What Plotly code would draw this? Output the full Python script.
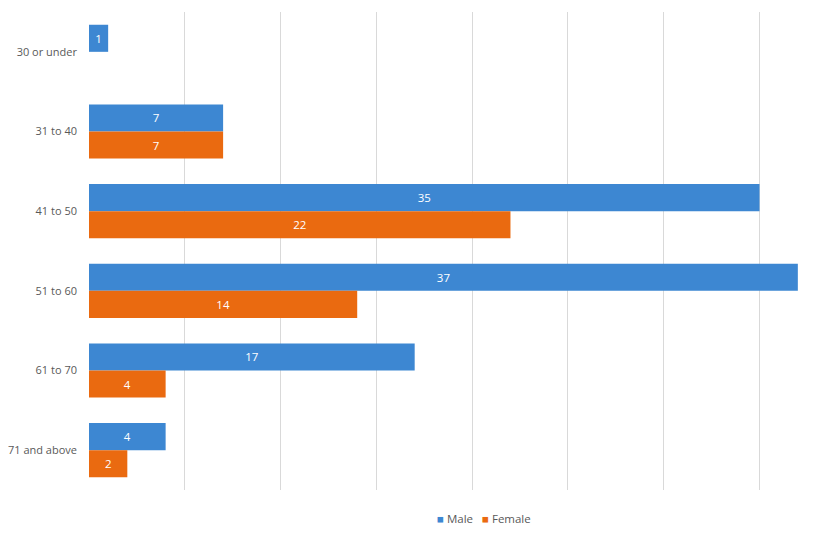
import plotly.graph_objects as go

# age bands, top to bottom
age_groups = ["30 or under", "31 to 40", "41 to 50", "51 to 60", "61 to 70", "71 and above"]
male = [1, 7, 35, 37, 17, 4]
female = [0, 7, 22, 14, 4, 2]

BLUE = "#3d87d2"
ORANGE = "#ea6a10"


def labels(vals):
    return [str(v) if v else "" for v in vals]


fig = go.Figure()
fig.add_trace(go.Bar(y=age_groups, x=male, name="Male", orientation="h",
                     marker=dict(color=BLUE, line=dict(width=0)),
                     text=labels(male), textposition="inside",
                     insidetextanchor="middle", constraintext="none",
                     textfont=dict(color="white", size=11.5)))
fig.add_trace(go.Bar(y=age_groups, x=female, name="Female", orientation="h",
                     marker=dict(color=ORANGE, line=dict(width=0)),
                     text=labels(female), textposition="inside",
                     insidetextanchor="middle", constraintext="none",
                     textfont=dict(color="white", size=11.5)))

# page body has an 8px margin, so the figure is a bit smaller than the window
fig.update_layout(
    width=811, height=530,
    margin=dict(l=81, r=2, t=4, b=48),
    barmode="group", bargap=0.32, bargroupgap=0,
    plot_bgcolor="white", paper_bgcolor="white",
    font=dict(family="Open Sans, Noto Sans, sans-serif", size=11.5, color="#595959"),
    showlegend=False,
)
# legend drawn as text so the keys sit close to their labels
fig.add_annotation(
    text=(f"<span style='color:{BLUE}'>■</span> Male   "
          f"<span style='color:{ORANGE}'>■</span> Female"),
    xref="paper", yref="paper", x=0.5426, y=-0.06, xanchor="center", yanchor="middle",
    showarrow=False, font=dict(size=11.5, color="#595959"))

fig.update_xaxes(range=[0, 38], dtick=5, showgrid=True, gridcolor="#d9d9d9",
                 showticklabels=False, zeroline=False, showline=False, automargin=False)
fig.update_yaxes(autorange="reversed", showgrid=False, ticks="", ticklabelstandoff=11,
                 tickfont=dict(size=11), showline=False, automargin=False)

fig.write_html("out.html")
